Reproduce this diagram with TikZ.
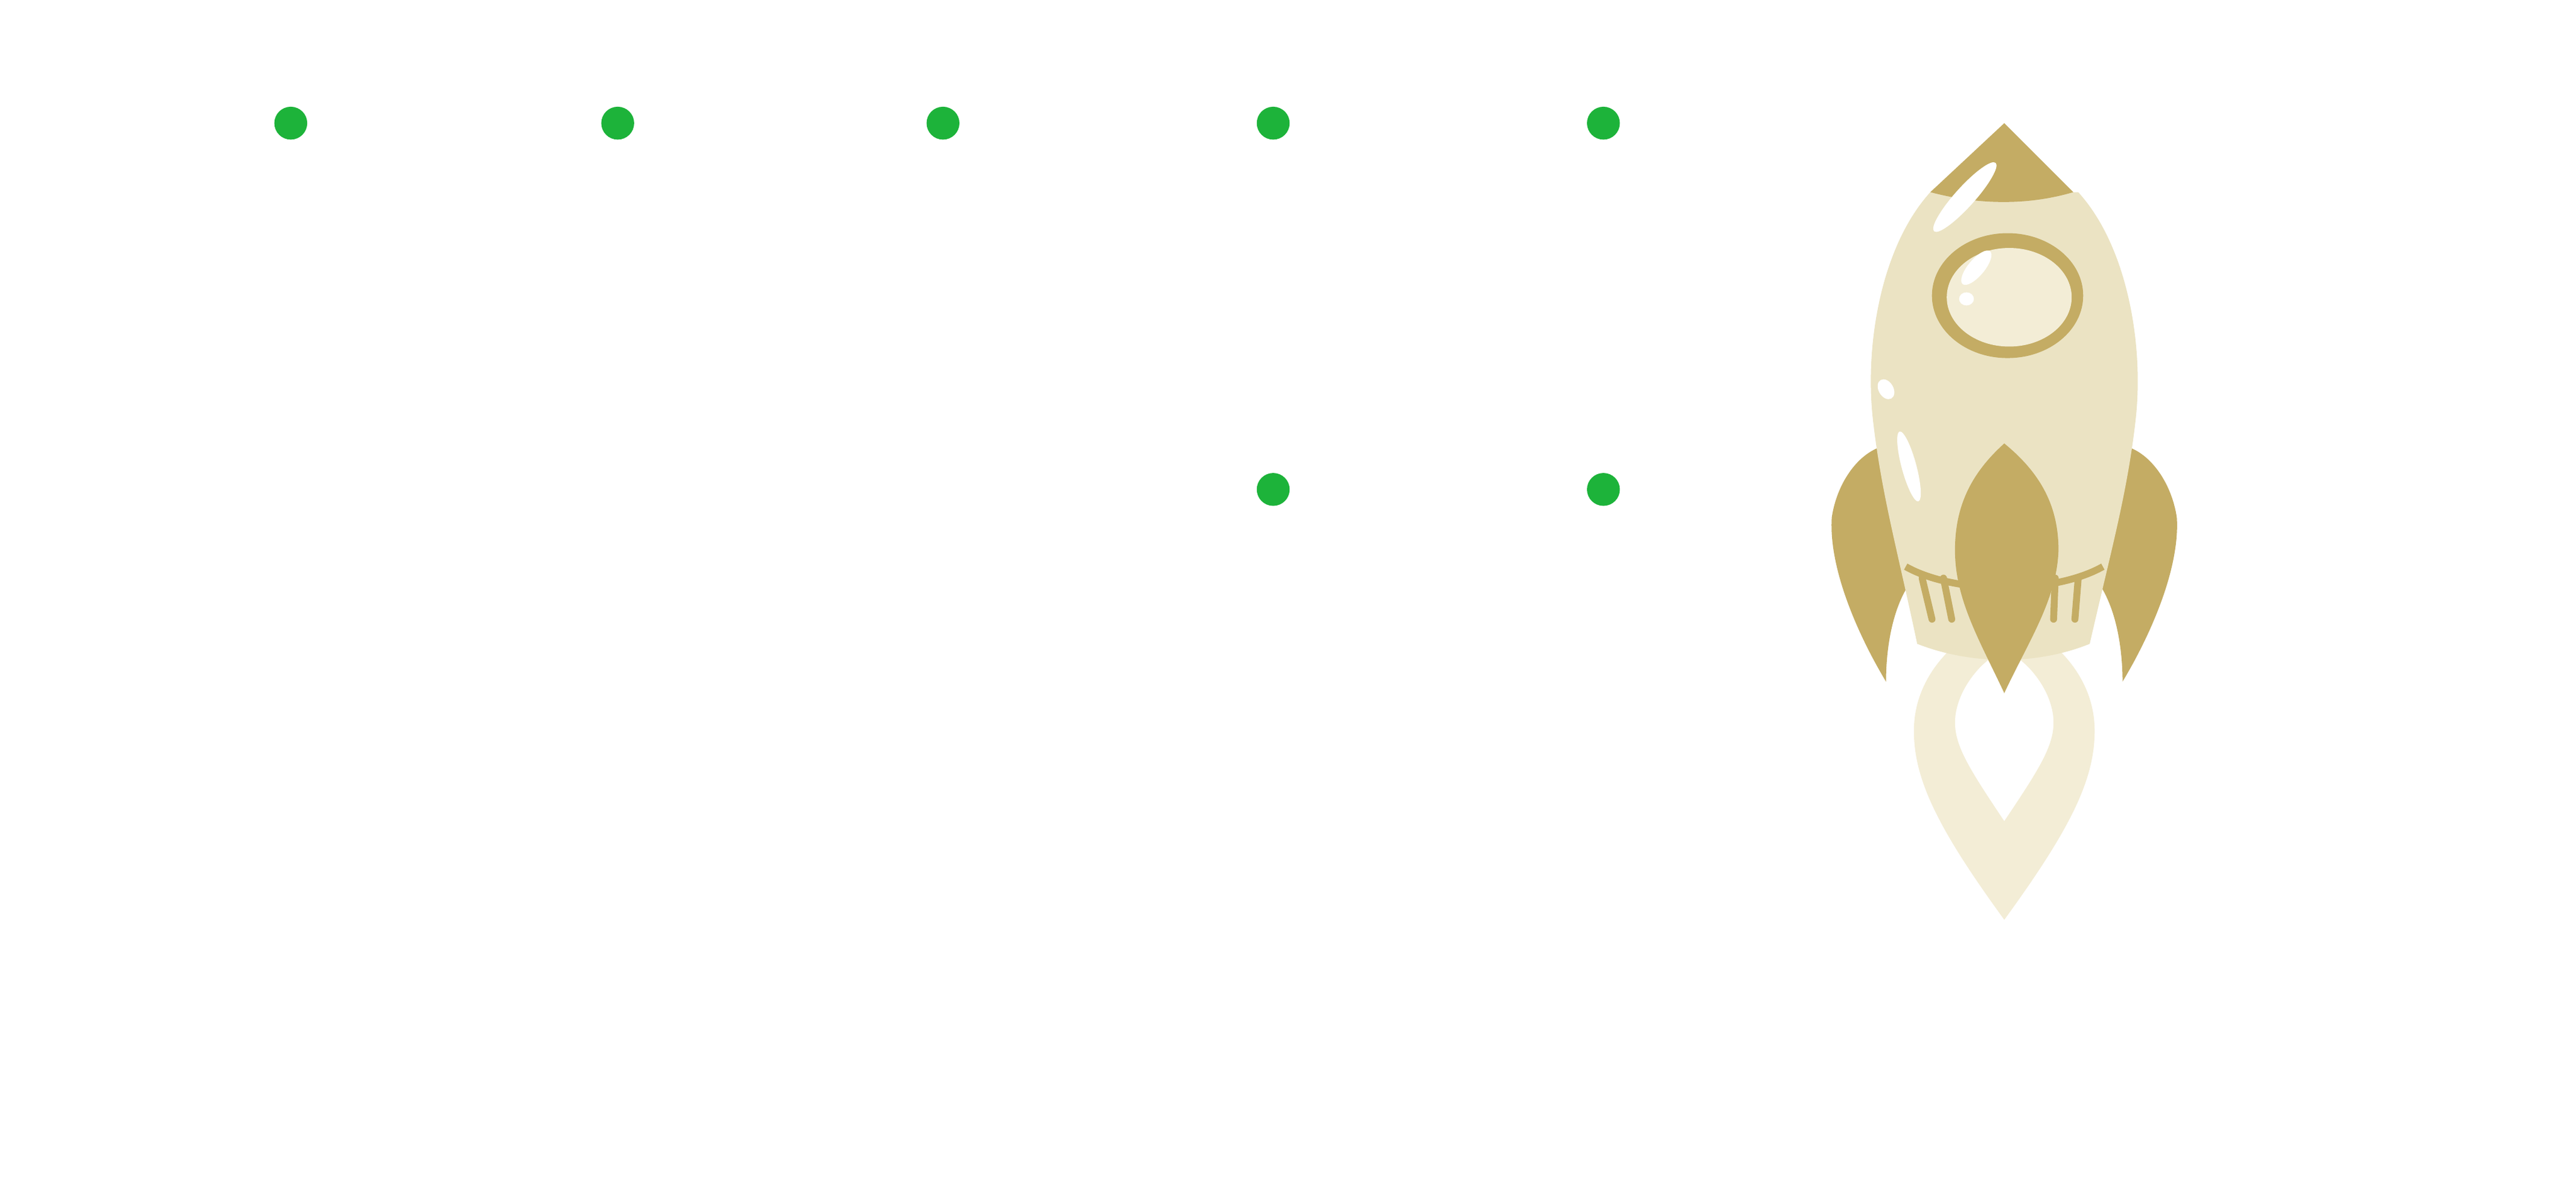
\documentclass[tikz,border=0pt]{standalone}
\begin{document}
\definecolor{gold}{HTML}{C4AC64}
\definecolor{body}{HTML}{EBE3C3}
\definecolor{pale}{HTML}{F3EDD6}
\definecolor{dot}{HTML}{1DB33A}
\begin{tikzpicture}[x=0.01cm,y=-0.01cm,dotst/.style={circle,fill=dot,minimum size=0.2cm,inner sep=0pt}]
\useasboundingbox (0,0) rectangle (1568,718.4);
\fill[white] (0,0) rectangle (1568,718.4);
% dots
\node[dotst] (d1) at (177,75) {};
\node[dotst] (d2) at (376,75) {};
\node[dotst] (d3) at (574,75) {};
\node[dotst] (d4) at (775,75) {};
\node[dotst] (d5) at (976,75) {};
\node[dotst] (d6) at (775,298) {};
\node[dotst] (d7) at (976,298) {};
% flame
\fill[pale,even odd rule] (1220,560) .. controls (1180,505) and (1165,475) .. (1165,445)
  .. controls (1165,415) and (1185,395) .. (1200,385) -- (1240,385)
  .. controls (1255,395) and (1275,415) .. (1275,445)
  .. controls (1275,475) and (1260,505) .. (1220,560) -- cycle
  (1220,500) .. controls (1200,470) and (1190,455) .. (1190,440)
  .. controls (1190,425) and (1200,410) .. (1210,402) -- (1230,402)
  .. controls (1240,410) and (1250,425) .. (1250,440)
  .. controls (1250,455) and (1240,470) .. (1220,500) -- cycle;
% side fins
\fill[gold] (1145,272) -- (1162,270) -- (1172,345) .. controls (1152,360) and (1148,395) .. (1148,415)
  .. controls (1130,385) and (1113,345) .. (1115,315) .. controls (1118,295) and (1130,277) .. (1145,272) -- cycle;
\fill[gold] (1295,272) -- (1278,270) -- (1268,345) .. controls (1288,360) and (1292,395) .. (1292,415)
  .. controls (1310,385) and (1327,345) .. (1325,315) .. controls (1322,295) and (1310,277) .. (1295,272) -- cycle;
% body
\fill[body] (1175,117) .. controls (1145,150) and (1135,210) .. (1140,255)
  .. controls (1145,300) and (1155,335) .. (1167,392)
  .. controls (1200,405) and (1240,405) .. (1272,392)
  .. controls (1285,335) and (1295,300) .. (1300,255)
  .. controls (1305,210) and (1295,150) .. (1265,117) -- cycle;
% nose
\fill[gold] (1175,117) -- (1220,75) -- (1262,117) .. controls (1235,125) and (1205,125) .. (1175,117) -- cycle;
% band
\draw[gold,line width=1.2pt] (1160,345) .. controls (1190,362) and (1250,362) .. (1280,345);
\foreach \a/\b in {1170/1176,1183/1188,1251/1250,1265/1263}
  \draw[gold,line width=1.2pt,line cap=round] (\a,352) -- (\b,377);
% center fin
\fill[gold] (1220,270) .. controls (1200,288) and (1190,308) .. (1190,335)
  .. controls (1190,365) and (1205,390) .. (1220,422)
  .. controls (1235,390) and (1252,365) .. (1253,335)
  .. controls (1253,308) and (1242,288) .. (1220,270) -- cycle;
% window
\fill[gold] (1222,180) ellipse [x radius=0.46cm,y radius=0.38cm];
\fill[pale] (1223,181) ellipse [x radius=0.38cm,y radius=0.30cm];
% highlights
\fill[white,rotate around={48:(1196,120)}] (1196,120) ellipse [x radius=0.28cm,y radius=0.06cm];
\fill[white,rotate around={50:(1203,163)}] (1203,163) ellipse [x radius=0.13cm,y radius=0.05cm];
\fill[white] (1197,182) ellipse [x radius=0.045cm,y radius=0.04cm];
\fill[white,rotate around={-60:(1148,237)}] (1148,237) ellipse [x radius=0.065cm,y radius=0.045cm];
\fill[white,rotate around={-75:(1162,284)}] (1162,284) ellipse [x radius=0.22cm,y radius=0.045cm];
\end{tikzpicture}
\end{document}
